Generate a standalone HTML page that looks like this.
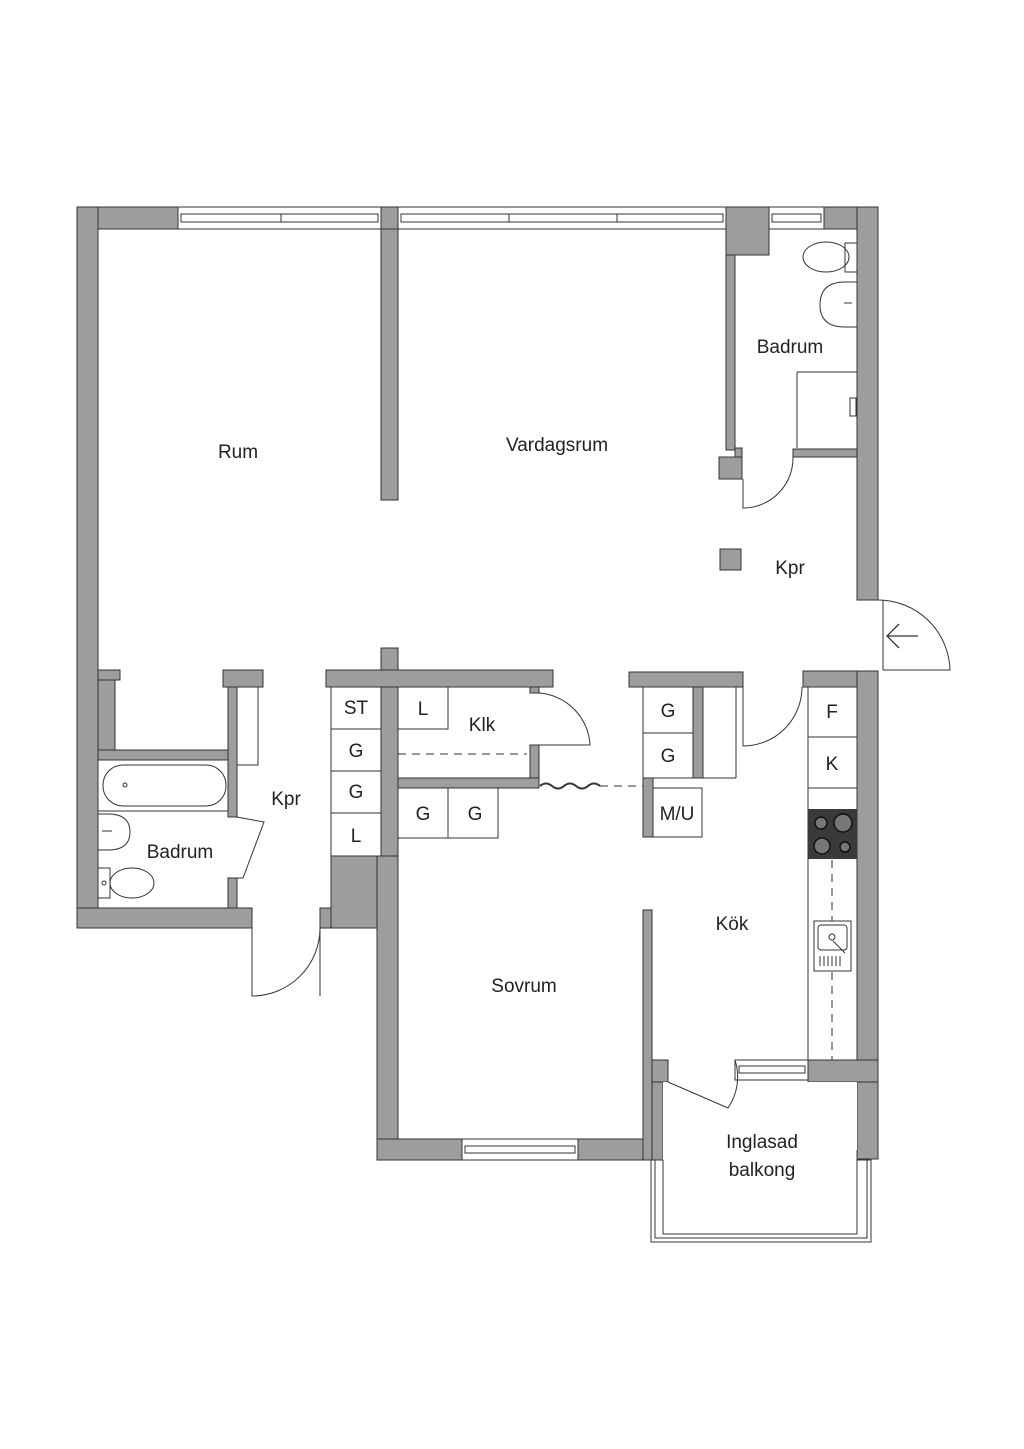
<!DOCTYPE html>
<html><head><meta charset="utf-8"><style>
html,body{margin:0;padding:0;background:#fff}
svg{display:block}
text{font-family:"Liberation Sans",sans-serif;font-size:19px;fill:#222}
</style></head><body>
<svg width="1024" height="1449" viewBox="0 0 1024 1449" xmlns="http://www.w3.org/2000/svg">
<g fill="#9d9d9d" stroke="#333" stroke-width="1">
<rect x="77" y="207" width="101" height="22"/>
<rect x="381" y="207" width="17" height="22"/>
<rect x="726" y="207" width="43" height="48"/>
<rect x="824" y="207" width="54" height="22"/>
<rect x="77" y="207" width="21" height="721"/>
<rect x="98" y="670" width="22" height="10"/>
<rect x="98" y="680" width="17" height="70"/>
<rect x="98" y="750" width="139" height="10"/>
<rect x="228" y="680" width="9" height="137"/>
<rect x="223" y="670" width="40" height="17"/>
<rect x="228" y="878" width="9" height="30"/>
<rect x="77" y="908" width="175" height="20"/>
<rect x="320" y="908" width="11" height="20"/>
<rect x="331" y="856" width="66" height="72"/>
<rect x="377" y="856" width="21" height="304"/>
<rect x="377" y="1139" width="85" height="21"/>
<rect x="578" y="1139" width="85" height="21"/>
<rect x="381" y="229" width="17" height="271"/>
<rect x="726" y="255" width="9" height="195"/>
<rect x="719" y="457" width="23" height="22"/>
<rect x="735" y="448" width="7" height="9"/>
<rect x="793" y="449" width="64" height="8"/>
<rect x="857" y="207" width="21" height="393"/>
<rect x="857" y="671" width="21" height="488"/>
<rect x="803" y="671" width="54" height="16"/>
<rect x="720" y="549" width="21" height="21"/>
<rect x="326" y="670" width="227" height="17"/>
<rect x="381" y="648" width="17" height="22"/>
<rect x="381" y="687" width="17" height="169"/>
<rect x="530" y="687" width="9" height="6"/>
<rect x="530" y="745" width="9" height="43"/>
<rect x="398" y="778" width="141" height="10"/>
<rect x="629" y="672" width="114" height="15"/>
<rect x="693" y="687" width="10" height="91"/>
<rect x="643" y="778" width="10" height="59"/>
<rect x="643" y="910" width="9" height="250"/>
<rect x="652" y="1060" width="16" height="22"/>
<rect x="652" y="1082" width="11" height="78"/>
<rect x="808" y="1060" width="70" height="22"/>
</g>
<g fill="#fff" stroke="#333" stroke-width="1">
<rect x="178" y="207" width="203" height="22"/>
<rect x="181" y="214" width="100" height="8"/><rect x="281" y="214" width="97" height="8"/>
<rect x="398" y="207" width="328" height="22"/>
<rect x="401" y="214" width="108" height="8"/><rect x="509" y="214" width="108" height="8"/><rect x="617" y="214" width="106" height="8"/>
<rect x="769" y="207" width="55" height="22"/>
<rect x="772" y="214" width="49" height="8"/>
<rect x="462" y="1139" width="116" height="21"/>
<rect x="465" y="1146" width="110" height="7"/>
<rect x="735" y="1060" width="73" height="20"/>
<rect x="739" y="1066" width="66" height="7"/>
<rect x="651" y="1160" width="220" height="82"/>
<rect x="655" y="1160" width="212" height="78"/>
<rect x="663" y="1082" width="194" height="152" stroke="none"/>
<line x1="663" y1="1234" x2="857" y2="1234"/>
<line x1="663" y1="1160" x2="663" y2="1234"/>
<line x1="857" y1="1150" x2="857" y2="1234"/>
</g>
<g fill="none" stroke="#333" stroke-width="1">
<rect x="237" y="687" width="21" height="78"/>
<line x1="98" y1="811" x2="228" y2="811"/>
<rect x="103" y="765" width="123" height="41" rx="20"/>
<circle cx="125" cy="785" r="2"/>
<path d="M98 814 L108 814 Q130 814 130 832 Q130 850 108 850 L98 850"/>
<line x1="102" y1="831" x2="112" y2="831"/>
<rect x="98" y="868" width="12" height="30"/>
<ellipse cx="132" cy="883" rx="22" ry="15"/>
<circle cx="104" cy="883" r="2"/>
<path d="M237 817 L264 822 L243 878 L237 878"/>
<path d="M252 928 L252 996 A68 68 0 0 0 320 928"/>
<line x1="320" y1="928" x2="320" y2="996"/>
<rect x="331" y="687" width="50" height="42"/>
<rect x="331" y="729" width="50" height="42"/>
<rect x="331" y="771" width="50" height="42"/>
<rect x="331" y="813" width="50" height="43"/>
<rect x="398" y="687" width="50" height="42"/>
<rect x="398" y="788" width="50" height="50"/>
<rect x="448" y="788" width="50" height="50"/>
<line x1="398" y1="754" x2="527" y2="754" stroke-dasharray="8,6"/>
<path d="M539 693 A55 55 0 0 1 590 745 L539 745"/>
<path d="M540 786 q6 -5 12 0 q6 5 12 0 q6 -5 12 0 q6 5 12 0 q6 -5 12 0" stroke-width="2"/>
<line x1="600" y1="786" x2="643" y2="786" stroke-dasharray="8,6"/>
<rect x="643" y="687" width="50" height="46"/>
<rect x="643" y="733" width="50" height="45"/>
<rect x="653" y="788" width="49" height="49"/>
<line x1="703" y1="778" x2="736" y2="778"/>
<line x1="736" y1="687" x2="736" y2="778"/>
<path d="M743 687 L743 746 A59 59 0 0 0 802 687"/>
<rect x="808" y="687" width="49" height="50"/>
<rect x="808" y="737" width="49" height="51"/>
<rect x="808" y="788" width="49" height="272"/>
<line x1="832" y1="860" x2="832" y2="1060" stroke-dasharray="8,6"/>
<rect x="814" y="921" width="37" height="50" fill="#fff"/>
<rect x="818" y="925" width="29" height="25" rx="3"/>
<circle cx="832" cy="937" r="3"/>
<line x1="833" y1="941" x2="845" y2="953"/>
<path d="M820 956v10M824 956v10M828 956v10M832 956v10M836 956v10M840 956v10"/>
<path d="M668 1082 L728 1108 A55 55 0 0 0 735 1060"/>
<ellipse cx="826" cy="257" rx="23" ry="15"/>
<rect x="845" y="243" width="12" height="29"/>
<path d="M857 282 L845 282 Q820 282 820 305 Q820 327 845 327 L857 327"/>
<line x1="844" y1="303" x2="852" y2="303"/>
<path d="M797 372 L857 372 M797 372 L797 448"/>
<path d="M850 398 l6 0 l0 18 l-6 0 z"/>
<path d="M743 479 L743 508 A50 50 0 0 0 793 457"/>
<line x1="883" y1="600" x2="883" y2="670"/>
<path d="M878 600 A72 72 0 0 1 950 670 L883 670"/>
<path d="M918 636 L887 636 M899 624 L887 636 L899 648" stroke-width="1.3"/>
</g>
<rect x="808" y="809" width="49" height="50" fill="#3a3a3a"/>
<g fill="#777" stroke="#111" stroke-width="1.5">
<circle cx="821" cy="823" r="6"/><circle cx="843" cy="823" r="9"/>
<circle cx="822" cy="846" r="8"/><circle cx="845" cy="847" r="5"/>
</g>
<text x="238" y="458" text-anchor="middle">Rum</text>
<text x="557" y="451" text-anchor="middle">Vardagsrum</text>
<text x="790" y="353" text-anchor="middle">Badrum</text>
<text x="790" y="574" text-anchor="middle">Kpr</text>
<text x="286" y="805" text-anchor="middle">Kpr</text>
<text x="180" y="858" text-anchor="middle">Badrum</text>
<text x="356" y="714" text-anchor="middle">ST</text>
<text x="356" y="757" text-anchor="middle">G</text>
<text x="356" y="798" text-anchor="middle">G</text>
<text x="356" y="842" text-anchor="middle">L</text>
<text x="423" y="715" text-anchor="middle">L</text>
<text x="482" y="731" text-anchor="middle">Klk</text>
<text x="423" y="820" text-anchor="middle">G</text>
<text x="475" y="820" text-anchor="middle">G</text>
<text x="668" y="717" text-anchor="middle">G</text>
<text x="668" y="762" text-anchor="middle">G</text>
<text x="677" y="820" text-anchor="middle">M/U</text>
<text x="832" y="718" text-anchor="middle">F</text>
<text x="832" y="770" text-anchor="middle">K</text>
<text x="732" y="930" text-anchor="middle">Kök</text>
<text x="524" y="992" text-anchor="middle">Sovrum</text>
<text x="762" y="1148" text-anchor="middle">Inglasad</text>
<text x="762" y="1176" text-anchor="middle">balkong</text>
</svg>
</body></html>
